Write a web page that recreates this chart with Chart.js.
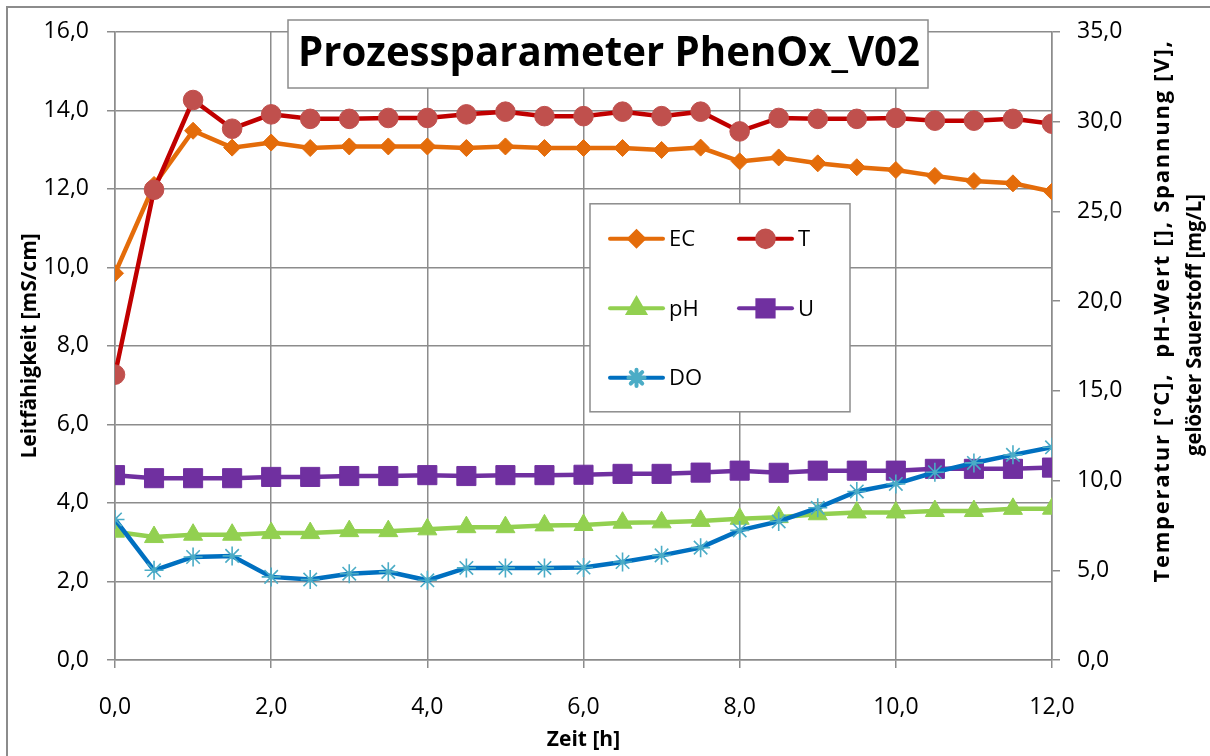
<!DOCTYPE html>
<html>
<head>
<meta charset="utf-8">
<script src="https://cdn.jsdelivr.net/npm/chart.js@4.4.1/dist/chart.umd.min.js"></script>
<style>
  html, body { margin: 0; padding: 0; background: #fff; }
</style>
</head>
<body>
<canvas id="chart" width="1210" height="756"></canvas>
<script>
// Zeitpunkte [h]
const times = [0, 0.5, 1, 1.5, 2, 2.5, 3, 3.5, 4, 4.5, 5, 5.5, 6, 6.5, 7, 7.5, 8, 8.5, 9, 9.5, 10, 10.5, 11, 11.5, 12];

// Leitfähigkeit [mS/cm] (linke Achse)
const ecValues = [9.85, 12.1, 13.48, 13.05, 13.18, 13.04, 13.08, 13.08, 13.08, 13.04, 13.08, 13.04, 13.04, 13.04, 12.99, 13.05, 12.7, 12.8, 12.65, 12.55, 12.48, 12.33, 12.2, 12.14, 11.93];
// Temperatur [°C] (rechte Achse)
const tValues = [15.9, 26.2, 31.2, 29.6, 30.4, 30.15, 30.15, 30.2, 30.2, 30.4, 30.55, 30.3, 30.3, 30.55, 30.3, 30.55, 29.45, 30.2, 30.15, 30.15, 30.2, 30.05, 30.05, 30.15, 29.88];
// pH-Wert
const phValues = [7.15, 6.85, 6.98, 6.98, 7.07, 7.07, 7.18, 7.18, 7.28, 7.4, 7.4, 7.5, 7.52, 7.65, 7.67, 7.75, 7.87, 7.96, 8.12, 8.22, 8.22, 8.3, 8.3, 8.42, 8.43];
// Spannung [V]
const uValues = [10.3, 10.13, 10.13, 10.13, 10.2, 10.2, 10.25, 10.25, 10.3, 10.25, 10.3, 10.3, 10.32, 10.37, 10.37, 10.44, 10.55, 10.43, 10.55, 10.55, 10.55, 10.65, 10.65, 10.65, 10.72];
// gelöster Sauerstoff [mg/L]
const doValues = [7.83, 5.0, 5.74, 5.8, 4.63, 4.48, 4.81, 4.91, 4.44, 5.13, 5.13, 5.13, 5.15, 5.46, 5.83, 6.26, 7.22, 7.72, 8.48, 9.39, 9.81, 10.46, 10.98, 11.43, 11.85];

const FONT = "'Open Sans', 'DejaVu Sans', sans-serif";
const GRID = "#8c8c8c";

const fmt = v => Number(v).toFixed(1).replace(".", ",");
const pts = vals => times.map((t, i) => ({ x: t, y: vals[i] }));

function series(label, vals, axis, lineColor, markColor, style, radius, order) {
  return {
    label: label, data: pts(vals), yAxisID: axis, order: order,
    borderColor: lineColor, backgroundColor: markColor, borderWidth: 4.5,
    pointStyle: style, pointRadius: radius, pointHoverRadius: radius,
    pointBackgroundColor: markColor, pointBorderColor: markColor,
    pointBorderWidth: style === "star" ? 1.6 : 1, tension: 0
  };
}

const datasets = [
  series("EC", ecValues, "y", "#E46C0A", "#E46C0A", "rectRot", 8.5, 5),
  series("T", tValues, "y1", "#C00000", "#C0504D", "circle", 9.8, 4),
  series("pH", phValues, "y1", "#92D050", "#92D050", "triangle", 11, 3),
  series("U", uValues, "y1", "#7030A0", "#7030A0", "rect", 13.5, 2),
  series("DO", doValues, "y1", "#0070C0", "#4BACC6", "star", 9.5, 1)
];

// Text auf Zielbreite bringen (schmale Originalschrift nachahmen)
function fitText(c, text, x, y, target) {
  c.letterSpacing = "0px";
  const w = c.measureText(text).width;
  if (w < target) c.letterSpacing = ((target - w) / text.length).toFixed(2) + "px";
  c.fillText(text, x, y, target);
  c.letterSpacing = "0px";
}

// Rahmen, Titelbox, Legende und rechter Achsentitel
const decor = {
  id: "decor",
  beforeDraw(chart) {
    const c = chart.ctx;
    c.save();
    c.fillStyle = "#fff";
    c.fillRect(0, 0, chart.width, chart.height);
    c.strokeStyle = GRID; c.lineWidth = 2;
    c.strokeRect(7, 7, chart.width + 20, chart.height + 20);
    c.restore();
  },
  afterDraw(chart) {
    const c = chart.ctx;
    const a = chart.chartArea;
    c.save();

    // Titel
    c.fillStyle = "#fff"; c.strokeStyle = GRID; c.lineWidth = 1.5;
    c.fillRect(288, 20, 640, 68); c.strokeRect(288, 20, 640, 68);
    c.fillStyle = "#000";
    c.font = "bold 41px " + FONT;
    c.textAlign = "center"; c.textBaseline = "middle";
    fitText(c, "Prozessparameter PhenOx_V02", 609, 54, 622);

    // Legende
    const bx = a.left + 475, by = a.top + 172;
    c.fillStyle = "#fff"; c.fillRect(bx, by, 260, 208);
    c.strokeRect(bx, by, 260, 208);
    chart.data.datasets.forEach((ds, i) => {
      const x0 = bx + 20 + (i % 2) * 129;
      const y = by + 35 + Math.floor(i / 2) * 69.5;
      c.strokeStyle = ds.borderColor; c.lineWidth = 4; c.lineCap = "round";
      c.beginPath(); c.moveTo(x0, y); c.lineTo(x0 + 53, y); c.stroke();
      c.fillStyle = ds.pointBackgroundColor; c.strokeStyle = ds.pointBorderColor;
      Chart.helpers.drawPoint(c, {
        pointStyle: ds.pointStyle, radius: ds.pointRadius * 0.85, rotation: 0,
        borderWidth: ds.pointBorderWidth
      }, x0 + 26.5, y);
      c.fillStyle = "#000"; c.font = "22px " + FONT;
      c.textAlign = "left"; c.textBaseline = "middle";
      c.fillText(ds.label, x0 + 59, y + 1);
    });

    // rechter Achsentitel (zweizeilig, gedreht)
    const r = chart.scales.y1;
    c.translate(r.left + 127, 318);
    c.rotate(-Math.PI / 2);
    c.fillStyle = "#000"; c.font = "bold 22px " + FONT;
    c.textAlign = "center"; c.textBaseline = "middle";
    fitText(c, "Temperatur [°C],  pH-Wert [], Spannung [V],", 7, -16, 543);
    fitText(c, "gelöster Sauerstoff [mg/L]", -7, 16, 262);
    c.restore();
  }
};

const tickFont = { family: FONT, size: 23 };
const titleFont = { family: FONT, size: 21, weight: "bold" };

new Chart(document.getElementById("chart"), {
  type: "line",
  data: { datasets: datasets },
  options: {
    responsive: false, animation: false, devicePixelRatio: 1,
    layout: { padding: { top: 30, left: 0, right: 0, bottom: 0 } },
    plugins: { legend: { display: false }, tooltip: { enabled: false } },
    scales: {
      x: {
        type: "linear", min: 0, max: 12,
        ticks: { stepSize: 2, callback: fmt, font: tickFont, color: "#000", padding: 26, maxRotation: 0 },
        grid: { color: GRID, lineWidth: 1.5, tickLength: 8 },
        border: { color: GRID, width: 1.5 },
        title: { display: true, text: "Zeit [h]", font: titleFont, color: "#000", padding: { top: 0, bottom: 3 } },
        afterFit: s => { s.height = 96; }
      },
      y: {
        position: "left", min: 0, max: 16,
        ticks: { stepSize: 2, callback: fmt, font: tickFont, color: "#000", padding: 18 },
        grid: { color: GRID, lineWidth: 1.5, tickLength: 8 },
        border: { color: GRID, width: 1.5 },
        title: { display: true, text: "Leitfähigkeit [mS/cm]", font: titleFont, color: "#000", padding: { top: 17, bottom: 0 } },
        afterFit: s => { s.width = 115; }
      },
      y1: {
        position: "right", min: 0, max: 35,
        ticks: { stepSize: 5, callback: fmt, font: tickFont, color: "#000", padding: 17 },
        grid: { drawOnChartArea: false, color: GRID, lineWidth: 1.5, tickLength: 8 },
        border: { color: GRID, width: 1.5 },
        afterFit: s => { s.width = 158; }
      }
    }
  },
  plugins: [decor]
});
</script>
</body>
</html>
